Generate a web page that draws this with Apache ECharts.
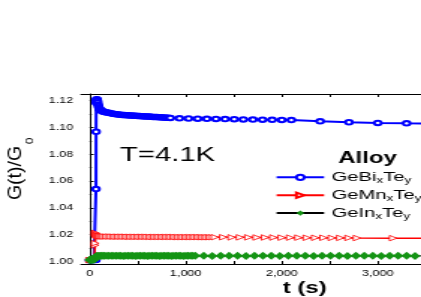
<!DOCTYPE html>
<html><head><meta charset="utf-8">
<script src="https://cdn.jsdelivr.net/npm/echarts@6/dist/echarts.min.js"></script>
<style>
html,body{margin:0;padding:0;background:#fff;overflow:hidden;width:421px;height:297px;}
#chart{width:281px;height:297px;transform:scaleX(1.498221);transform-origin:0 0;}
</style></head><body><div id="chart"></div>
<script>
// ---- data (time in s, normalized conductance G(t)/G0) ----
const seriesNames = ['GeBixTey', 'GeMnxTey', 'GeInxTey'];
const legendRich = {
  GeBixTey: '{n|GeBi}{s|x}{n|Te}{s|y}',
  GeMnxTey: '{n|GeMn}{s|x}{n|Te}{s|y}',
  GeInxTey: '{n|GeIn}{s|x}{n|Te}{s|y}'
};
const blueT = [0,15,30,45,60,65,66,67,68,70,73,76,80,84,88,92,96,100,106,112,120,130,140,150,165,180,200,220,240,260,280,300,320,340,360,380,400,420,440,460,480,500,520,540,560,580,600,620,640,660,680,700,720,740,760,780,800,820,840,935,1030,1125,1220,1315,1410,1505,1600,1700,1800,1900,2000,2100,2400,2700,3000,3300,3600];
const blueG = [1.0008,1.0008,1.0009,1.0009,1.0010,1.0012,1.0540,1.0968,1.1185,1.1205,1.1210,1.1208,1.1200,1.1188,1.1172,1.1160,1.1150,1.1142,1.1135,1.1130,1.1126,1.1122,1.1119,1.1117,1.1114,1.1112,1.1109,1.1106,1.1103,1.1101,1.1099,1.1097,1.1095,1.1094,1.1093,1.1092,1.1091,1.1090,1.1089,1.1088,1.1087,1.1086,1.1085,1.1084,1.1083,1.1082,1.1082,1.1081,1.1080,1.1079,1.1079,1.1078,1.1077,1.1076,1.1075,1.1074,1.1073,1.1072,1.1071,1.1068,1.1067,1.1066,1.1065,1.1064,1.1063,1.1062,1.1060,1.1059,1.1058,1.1057,1.1056,1.1055,1.1046,1.1039,1.1034,1.1031,1.1029];
const redT = [0,15,30,45,55,57,58,59,61,64,68,72,78,85,95,105,120,135,150,175,200,225,250,275,300,325,350,375,400,425,450,475,500,525,550,575,600,625,650,675,700,725,750,775,800,825,850,875,900,925,950,975,1000,1025,1050,1075,1100,1125,1150,1175,1200,1225,1250,1275,1305,1392,1479,1566,1653,1740,1827,1914,2001,2088,2175,2262,2349,2436,2523,2610,2697,2784,3160,3600];
const redG = [1.0009,1.0009,1.0010,1.0010,1.0013,1.0120,1.0135,1.0205,1.0212,1.0208,1.0200,1.0195,1.0192,1.0190,1.0188,1.0187,1.0186,1.0186,1.0185,1.0185,
  1.0185,1.0185,1.0184,1.0184,1.0184,1.0184,1.0184,1.0184,1.0183,1.0183,
  1.0183,1.0183,1.0183,1.0183,1.0183,1.0183,1.0183,1.0182,1.0182,1.0182,
  1.0182,1.0182,1.0182,1.0182,1.0182,1.0182,1.0182,1.0182,1.0181,1.0181,
  1.0181,1.0181,1.0181,1.0181,1.0181,1.0181,1.0181,1.0181,1.0181,1.0180,
  1.0180,1.0180,1.0180,1.0180,
  1.0180,
  1.0180,1.0179,1.0179,1.0179,1.0178,1.0178,1.0178,1.0177,1.0177,1.0177,1.0176,1.0176,1.0176,1.0175,1.0175,1.0175,1.0174,
  1.0173,1.0172];
const greenT = [0,5,10,15,20,25,30,35,40,45,50,55,60,65,70,75,80,90,100,115,130,150,175,200,225,250,275,300,325,350,375,400,425,450,475,500,525,550,575,600,625,650,675,700,725,750,775,800,825,850,875,900,925,950,975,1000,1025,1050,1075,1100,1188,1276,1364,1452,1540,1628,1716,1804,1892,1980,2068,2156,2244,2332,2420,2508,2596,2684,2772,2860,2948,3036,3124,3212,3300,3388,3476];
const greenG = [1.0010,1.0012,1.0011,1.0013,1.0012,1.0013,1.0012,1.0014,1.0013,1.0015,1.0016,1.0020,1.0028,1.0034,1.0037,1.0038,1.0039,1.0040,1.0040,1.0041,1.0041,1.0041,
  1.0041,1.0041,1.0041,1.0041,1.0041,1.0041,1.0041,1.0040,1.0041,1.0041,1.0041,1.0041,1.0040,1.0041,1.0041,1.0041,1.0041,1.0040,1.0041,1.0041,1.0041,1.0041,1.0040,1.0041,1.0041,1.0041,1.0041,1.0040,1.0041,1.0041,1.0041,1.0041,1.0040,1.0041,1.0041,1.0041,1.0041,
  1.0041,1.0041,1.0040,1.0041,1.0041,1.0041,1.0040,1.0041,1.0041,1.0041,1.0040,1.0041,1.0041,1.0041,1.0040,1.0041,1.0041,1.0041,1.0040,1.0041,1.0041,1.0041,1.0040,1.0041,1.0041,1.0041,1.0040,1.0041];
const xTickVals = [0,500,1000,1500,2000,2500,3000];
const xLabelVals = [0,1000,2000,3000];
const yLabelVals = [1.00,1.02,1.04,1.06,1.08,1.10,1.12];
const yMinorVals = [1.01,1.03,1.05,1.07,1.09,1.11];
const xTitle = 't (s)';
const yTitleMain = 'G(t)/G';
const yTitleSub = '0';
const tempText = 'T=4.1K';
const legendTitle = 'Alloy';

// ---- layout (chart is drawn in a 281px-wide box, stretched horizontally to 421px) ----
const S = 421 / 281;
const FF = '"Liberation Sans", Arial, sans-serif';
const pairs = (t, g) => t.map((v, i) => [v, g[i]]);
const comma = v => String(v).replace(/\B(?=(\d{3})+(?!\d))/g, ',');

const chart = echarts.init(document.getElementById('chart'), null, {renderer: 'canvas'});
chart.setOption({
  animation: false,
  backgroundColor: '#fff',
  grid: {left: 81 / S, right: 0, top: 94, bottom: 33, outerBoundsMode: 'none'},
  xAxis: [
    {type: 'value', position: 'bottom', min: -90, max: 3450,
      axisLine: {show: true, lineStyle: {color: '#000', width: 1}},
      axisTick: {show: true, inside: true, length: 3, customValues: xTickVals, lineStyle: {color: '#000'}},
      axisLabel: {customValues: xLabelVals, formatter: v => comma(v), fontSize: 8.5, fontFamily: FF, color: '#000', margin: 5},
      splitLine: {show: false}},
    {type: 'value', position: 'top', min: -90, max: 3450,
      axisLine: {show: true, lineStyle: {color: '#000', width: 1}},
      axisTick: {show: true, inside: true, length: 3, customValues: xTickVals, lineStyle: {color: '#000'}},
      axisLabel: {show: false}, splitLine: {show: false}}
  ],
  yAxis: [
    {type: 'value', position: 'left', min: 0.998, max: 1.125,
      axisLine: {show: true, lineStyle: {color: '#000', width: 1}},
      axisTick: {show: true, inside: true, length: 2.7, customValues: yLabelVals, lineStyle: {color: '#000'}},
      axisLabel: {customValues: yLabelVals, formatter: v => v.toFixed(2), fontSize: 8.3, fontFamily: FF, color: '#000', margin: 5.3},
      splitLine: {show: false}},
    {type: 'value', position: 'left', min: 0.998, max: 1.125,
      axisLine: {show: false},
      axisTick: {show: true, inside: true, length: 1.4, customValues: yMinorVals, lineStyle: {color: '#000'}},
      axisLabel: {show: false}, splitLine: {show: false}}
  ],
  legend: {
    orient: 'vertical', left: 183.6, top: 170.3, padding: 0,
    itemWidth: 31.7, itemHeight: 6.5, itemGap: 2.9, selectedMode: false,
    data: seriesNames,
    formatter: name => legendRich[name],
    textStyle: {color: '#000', fontFamily: FF,
      rich: {
        n: {fontSize: 13.5, fontFamily: FF, color: '#000', lineHeight: 16, verticalAlign: 'middle'},
        s: {fontSize: 9, fontFamily: FF, color: '#000', lineHeight: 6, verticalAlign: 'bottom'}
      }}
  },
  graphic: [
    {type: 'text', x: 120 / S, y: 156, silent: true,
      style: {text: tempText, fontSize: 19.5, fontFamily: FF, fill: '#000', align: 'left', verticalAlign: 'middle', textAlign: 'left', textVerticalAlign: 'middle'}},
    {type: 'text', x: 367.5 / S, y: 159, silent: true,
      style: {text: legendTitle, fontSize: 16, fontWeight: 'bold', fontFamily: FF, fill: '#000', align: 'center', verticalAlign: 'middle', textAlign: 'center', textVerticalAlign: 'middle'}},
    {type: 'text', x: 304.7 / S, y: 289, silent: true,
      style: {text: xTitle, fontSize: 16, fontWeight: 'bold', fontFamily: FF, fill: '#000', align: 'center', verticalAlign: 'middle', textAlign: 'center', textVerticalAlign: 'middle'}},
    {type: 'text', x: 15 / S, y: 173, rotation: Math.PI / 2, scaleY: 1 / S, silent: true,
      style: {text: yTitleMain, fontSize: 19.5, fontFamily: FF, fill: '#000', align: 'center', verticalAlign: 'middle', textAlign: 'center', textVerticalAlign: 'middle'}},
    {type: 'text', x: 30 / S, y: 141, rotation: Math.PI / 2, scaleY: 1 / S, silent: true,
      style: {text: yTitleSub, fontSize: 12, fontFamily: FF, fill: '#000', align: 'center', verticalAlign: 'middle', textAlign: 'center', textVerticalAlign: 'middle'}}
  ],
  series: [
    {name: seriesNames[0], type: 'line', xAxisIndex: 0, yAxisIndex: 0, data: pairs(blueT, blueG),
      symbol: 'emptyCircle', symbolSize: 4.5, showSymbol: true,
      lineStyle: {color: '#0000ff', width: 2},
      itemStyle: {color: '#0000ff', borderColor: '#0000ff', borderWidth: 1}},
    {name: seriesNames[1], type: 'line', xAxisIndex: 0, yAxisIndex: 0, data: pairs(redT, redG),
      symbol: 'path://M0,0L10,5L0,10Z', symbolSize: [5, 5.5], symbolKeepAspect: false, showSymbol: true,
      lineStyle: {color: '#ff0000', width: 1.5},
      itemStyle: {color: '#ffffff', borderColor: '#ff0000', borderWidth: 0.8}},
    {name: seriesNames[2], type: 'line', xAxisIndex: 0, yAxisIndex: 0, data: pairs(greenT, greenG),
      symbol: 'diamond', symbolSize: [7, 8], showSymbol: true,
      lineStyle: {color: '#000000', width: 1},
      itemStyle: {color: '#149414', borderColor: '#149414', borderWidth: 0}}
  ]
});
</script></body></html>
